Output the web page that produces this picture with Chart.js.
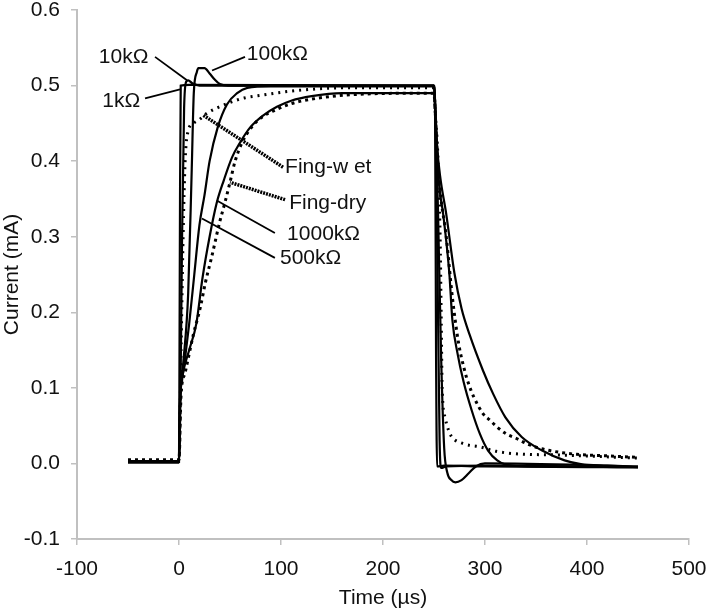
<!DOCTYPE html>
<html>
<head>
<meta charset="utf-8">
<title>Current vs time</title>
<script src="https://cdn.jsdelivr.net/npm/chart.js@4.4.1/dist/chart.umd.min.js"></script>
<style>
  html, body { margin: 0; padding: 0; background: #fff; }
  #wrap { width: 708px; height: 611px; }
</style>
</head>
<body>
<div id="wrap"><canvas id="chart" width="708" height="611"></canvas></div>
<script>
// Datos: [tiempo (µs), corriente (mA)]
const r1k = [[-50,0.002],[0,0.002],[0.5,0.15],[1,0.35],[1.7,0.5],[10,0.501],[250,0.5],[251,0.48],[252,0.15],[253,-0.004],[260,-0.003],[300,-0.004],[450,-0.005]];
const r10k = [[-50,0.002],[0,0.002],[1.5,0.1],[3,0.3],[5,0.47],[7,0.505],[9,0.507],[13,0.503],[20,0.5],[250,0.5],[251.5,0.45],[253.5,0.25],[255.5,0.03],[257,-0.006],[262,-0.004],[300,-0.003],[450,-0.005]];
const r100k = [[-50,0.002],[0,0.002],[1,0.08],[4,0.13],[9,0.225],[12.5,0.39],[14.5,0.49],[17.5,0.518],[19,0.523],[25,0.523],[30,0.516],[35,0.508],[40,0.502],[48,0.5],[250,0.5],[251.5,0.46],[254,0.33],[257,0.14],[260,0.02],[263,-0.012],[267,-0.022],[271,-0.025],[277,-0.022],[284,-0.013],[291,-0.004],[300,0],[450,-0.004]];
const r500k = [[-50,0.003],[0,0.003],[1,0.08],[3,0.11],[6,0.14],[10,0.185],[15,0.25],[20,0.315],[25,0.355],[30,0.4],[38,0.445],[47,0.475],[57,0.49],[67,0.497],[90,0.499],[250,0.499],[251,0.48],[253,0.42],[255,0.37],[259,0.33],[265,0.252],[268,0.19],[273,0.146],[279,0.108],[287,0.07],[295,0.039],[303,0.017],[312,0.004],[321,-0.002],[350,-0.004],[450,-0.005]];
const r1000k = [[-50,0.001],[0,0.001],[1,0.08],[4,0.12],[10,0.15],[17,0.185],[23,0.245],[30,0.3],[37,0.345],[44,0.375],[52,0.405],[60,0.425],[70,0.445],[82,0.46],[96,0.472],[110,0.48],[130,0.486],[160,0.49],[250,0.49],[251,0.47],[253,0.42],[256,0.38],[262,0.33],[270,0.252],[277,0.205],[285,0.17],[298,0.123],[308,0.092],[320,0.061],[336,0.035],[356,0.017],[378,0.004],[394,-0.001],[420,-0.003],[450,-0.005]];
const fingWet = [[-50,0.003],[0,0.003],[2,0.15],[4,0.3],[6,0.4],[9,0.44],[14,0.45],[20,0.455],[27,0.463],[40,0.472],[55,0.48],[65,0.484],[80,0.487],[100,0.491],[120,0.494],[160,0.497],[250,0.497],[251,0.47],[254,0.4],[256,0.3],[257,0.2],[258,0.1],[261,0.06],[264,0.045],[267,0.036],[279,0.026],[295,0.022],[311,0.016],[328,0.013],[377,0.011],[450,0.007]];
const fingDry = [[-50,0.005],[0,0.005],[2,0.09],[6,0.12],[14,0.17],[21,0.207],[26,0.24],[32,0.273],[40,0.32],[45,0.345],[50,0.372],[55,0.4],[62,0.425],[70,0.443],[80,0.457],[95,0.468],[110,0.476],[130,0.482],[170,0.488],[250,0.49],[251,0.47],[253,0.41],[256,0.36],[262,0.3],[268,0.22],[274,0.16],[280,0.123],[284,0.105],[289,0.088],[298,0.066],[305,0.057],[312,0.048],[321,0.039],[331,0.033],[341,0.026],[360,0.018],[390,0.012],[420,0.01],[450,0.008]];

const seriesNames = ['1kΩ', '10kΩ', '100kΩ', '500kΩ', '1000kΩ', 'Fing-wet', 'Fing-dry'];
const seriesData = [r1k, r10k, r100k, r500k, r1000k, fingWet, fingDry];

const xTicks = [-100, 0, 100, 200, 300, 400, 500];
const yTicks = [-0.1, 0, 0.1, 0.2, 0.3, 0.4, 0.5, 0.6];

// Etiquetas con línea guía (en unidades de los ejes)
const callouts = [
  { text: '10kΩ', from: [-23.5, 0.538], to: [7.8, 0.507], tx: -30, ty: 0.538, align: 'right' },
  { text: '100kΩ', from: [64.7, 0.538], to: [32.4, 0.52], tx: 66.5, ty: 0.542, align: 'left' },
  { text: '1kΩ', from: [-33.3, 0.483], to: [1, 0.495], tx: -38, ty: 0.479, align: 'right' },
  { text: 'Fing-w et', from: [102, 0.392], to: [23.5, 0.461], tx: 104, ty: 0.392, align: 'left', dotted: true },
  { text: 'Fing-dry', from: [104, 0.349], to: [50, 0.372], tx: 108, ty: 0.344, align: 'left', dotted: true },
  { text: '1000kΩ', from: [94, 0.305], to: [37, 0.348], tx: 106, ty: 0.303, align: 'left' },
  { text: '500kΩ', from: [94, 0.272], to: [22.5, 0.324], tx: 99, ty: 0.272, align: 'left' }
];

const FONT = { family: '"Liberation Sans", Arial, sans-serif', size: 21 };
const AXIS_GREY = '#c0c0c0';

const calloutPlugin = {
  id: 'callouts',
  afterDatasetsDraw(chart) {
    const ctx = chart.ctx;
    const xs = chart.scales.x, ys = chart.scales.y;
    ctx.save();
    ctx.font = FONT.size + 'px ' + FONT.family;
    ctx.fillStyle = '#111';
    ctx.strokeStyle = '#000';
    callouts.forEach(c => {
      ctx.beginPath();
      if (c.dotted) {
        ctx.lineWidth = 3.5;
        ctx.setLineDash([2, 1]);
      } else {
        ctx.lineWidth = 1.8;
        ctx.setLineDash([]);
      }
      ctx.moveTo(xs.getPixelForValue(c.from[0]), ys.getPixelForValue(c.from[1]));
      ctx.lineTo(xs.getPixelForValue(c.to[0]), ys.getPixelForValue(c.to[1]));
      ctx.stroke();
      ctx.textAlign = c.align;
      ctx.textBaseline = 'middle';
      ctx.fillText(c.text, xs.getPixelForValue(c.tx), ys.getPixelForValue(c.ty));
    });
    ctx.restore();
  }
};

const datasets = seriesData.map((pts, i) => {
  const dotted = seriesNames[i].startsWith('Fing');
  return {
    label: seriesNames[i],
    data: pts.map(p => ({ x: p[0], y: p[1] })),
    borderColor: '#000',
    borderWidth: dotted ? 3 : 2.2,
    borderDash: dotted ? (seriesNames[i] === 'Fing-wet' ? [2, 5] : [3, 4]) : [],
    pointRadius: 0,
    fill: false,
    cubicInterpolationMode: 'monotone'
  };
});

new Chart(document.getElementById('chart'), {
  type: 'line',
  data: { datasets },
  plugins: [calloutPlugin],
  options: {
    responsive: false,
    animation: false,
    layout: { padding: { left: 0, right: 19, top: 10, bottom: 0 } },
    plugins: { legend: { display: false }, tooltip: { enabled: false } },
    scales: {
      x: {
        type: 'linear',
        min: -100,
        max: 500,
        afterBuildTicks: s => { s.ticks = xTicks.map(v => ({ value: v })); },
        ticks: { color: '#111', font: FONT, padding: 12, maxRotation: 0 },
        grid: { drawOnChartArea: false, tickLength: 6, color: AXIS_GREY, lineWidth: 1.5 },
        border: { color: AXIS_GREY, width: 2 },
        title: { display: true, text: 'Time (µs)', color: '#111', font: FONT, padding: { top: 0, bottom: 0 } },
        afterFit: s => { s.height = 72; s.paddingLeft = 0; s.paddingRight = 0; }
      },
      y: {
        type: 'linear',
        min: -0.1,
        max: 0.6,
        afterBuildTicks: s => { s.ticks = yTicks.map(v => ({ value: v })); },
        ticks: { color: '#111', font: FONT, padding: 11, callback: v => v.toFixed(1) },
        grid: { drawOnChartArea: false, tickLength: 6, color: AXIS_GREY, lineWidth: 1.5 },
        border: { color: AXIS_GREY, width: 2 },
        title: { display: true, text: 'Current (mA)', color: '#111', font: FONT, padding: { top: 0, bottom: 0 } },
        afterFit: s => { s.width = 77; s.paddingTop = 0; s.paddingBottom = 0; }
      }
    }
  }
});
</script>
</body>
</html>
